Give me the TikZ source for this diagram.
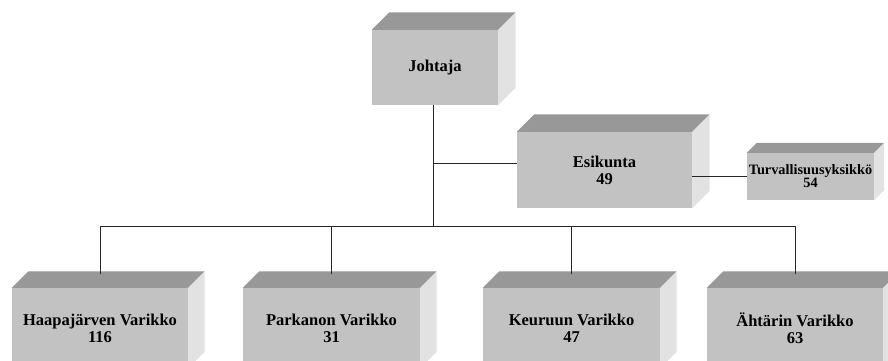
\documentclass[tikz,border=0pt]{standalone}
\usepackage{fontspec}
\setmainfont{Liberation Serif}
\usepackage{tikz}

\tikzset{
  laatikko/.style={fill=etu, inner sep=0pt, align=center, font=\bfseries\fontsize{16.5}{17}\selectfont},
  pieni/.style={laatikko, font=\bfseries\fontsize{14.3}{13}\selectfont},
  katto/.style={fill=kansi},
  kylki/.style={fill=sivu},
  viiva/.style={draw=black!85, line width=0.9pt}
}
\definecolor{etu}{HTML}{C2C2C2}
\definecolor{kansi}{HTML}{989898}
\definecolor{sivu}{HTML}{E2E2E2}

% top and side faces of a box
\newcommand{\kuutio}[2]{
  \fill[katto] (#1.north west) -- ++(#2,-#2) -- ([shift={(#2,-#2)}]#1.north east) -- (#1.north east) -- cycle;
  \fill[kylki] (#1.north east) -- ++(#2,-#2) -- ([shift={(#2,-#2)}]#1.south east) -- (#1.south east) -- cycle;
}

\begin{document}
\begin{tikzpicture}[x=1pt,y=-1pt]
  \clip (0,0) rectangle (888,361);
  \fill[white] (0,0) rectangle (888,361);

  \node[laatikko, minimum width=126pt, minimum height=75pt] (johtaja) at (435,67.5) {Johtaja};
  \node[laatikko, minimum width=175pt, minimum height=76pt] (esikunta) at (604.5,170) {Esikunta\\49};
  \node[pieni, minimum width=127pt, minimum height=47pt] (turva) at (810.5,176.5) {Turvallisuusyksikkö\\54};

  \node[laatikko, minimum width=176pt, minimum height=80pt] (haapa) at (100,328) {Haapajärven Varikko\\116};
  \node[laatikko, minimum width=177pt, minimum height=80pt] (parkano) at (331.5,328) {Parkanon Varikko\\31};
  \node[laatikko, minimum width=177pt, minimum height=80pt] (keuruu) at (571.5,328) {Keuruun Varikko\\47};
  \node[laatikko, minimum width=176pt, minimum height=80pt] (ahtari) at (795,328) {Ähtärin Varikko\\63};

  \kuutio{johtaja}{17.5}
  \kuutio{esikunta}{17.5}
  \kuutio{turva}{10}
  \kuutio{haapa}{16.5}
  \kuutio{parkano}{16.5}
  \kuutio{keuruu}{16.5}
  \kuutio{ahtari}{16.5}

  \coordinate (risteys) at (433,226);
  \draw[viiva] ([xshift=-2pt]johtaja.south) -- (risteys);
  \draw[viiva] (risteys |- 0,163) -- ([yshift=7pt]esikunta.west);
  \draw[viiva] (esikunta.east |- turva.west) -- (turva.west);
  \draw[viiva] (haapa.north |- risteys) -- (ahtari.north |- risteys);
  \foreach \n in {haapa, parkano, keuruu, ahtari}
    \draw[viiva] (\n.north |- risteys) -- ([yshift=14pt]\n.north);
\end{tikzpicture}
\end{document}
